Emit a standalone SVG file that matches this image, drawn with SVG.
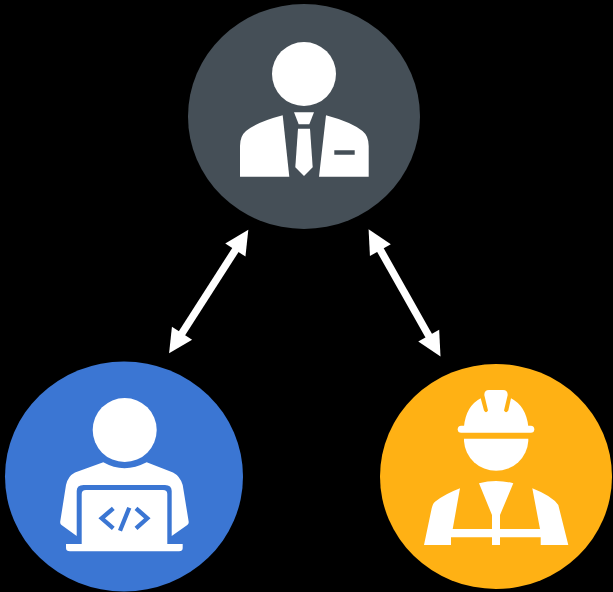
<svg xmlns="http://www.w3.org/2000/svg" width="613" height="592" viewBox="0 0 613 592">
<style>
.w{fill:#fff}
.link{stroke:#fff;stroke-width:7.5;fill:none;marker-start:url(#head);marker-end:url(#head)}
.code{stroke:#3b76d3;stroke-width:4.3;fill:none}
</style>
<defs>
<marker id="head" markerUnits="userSpaceOnUse" markerWidth="26" markerHeight="26" viewBox="0 -13 26 26" refX="1" refY="0" orient="auto-start-reverse" overflow="visible">
<path d="M0,-12 L24,0 L0,12 Z" fill="#fff"/>
</marker>
</defs>
<rect width="613" height="592" fill="#000"/>
<g id="connectors">
<line class="link" x1="235.9" y1="249.2" x2="181.5" y2="334"/>
<line class="link" x1="379.9" y1="249.2" x2="429.2" y2="336.5"/>
</g>
<g id="manager">
<ellipse cx="304" cy="116.5" rx="116" ry="112.5" fill="#454f57"/>
<circle class="w" cx="304" cy="74" r="32"/>
<path class="w" d="M282.7,115.3 Q257,122 246,131 Q240,136 240,146 V176.7 H289.3 Z"/>
<path class="w" fill-rule="evenodd" d="M326,115.3 Q351,122 362.5,131 Q368.7,136 368.7,146 V176.7 H319 Z M334.3,150.3 H354.7 V154.7 H334.3 Z"/>
<path class="w" d="M294,112.3 H314 L309.3,124.3 H298.7 Z"/>
<path class="w" d="M298,128.7 H310 L312.7,167.3 L304,176 L295.3,167.3 Z"/>
</g>
<g id="developer">
<ellipse cx="124" cy="476.5" rx="119" ry="115" fill="#3b76d3"/>
<circle class="w" cx="124.7" cy="430" r="32"/>
<path class="w" d="M103.3,462.3 Q124,474 146.7,462.3 L173,472.5 Q180,476 182.7,485 L188.7,521.7 Q189,524 187.3,525 L171.7,536 V491 Q171.7,485 165,485 H83.5 Q76.7,485 76.7,491 V536 L61.5,525 Q60,524 60.2,521.7 L66,485 Q68,476 75,472.5 Z"/>
<path class="w" d="M81.7,544 V494 Q81.7,490 86,490 H163 Q167.3,490 167.3,494 V544 Z"/>
<path class="w" d="M66,544 H182.7 V548 Q182.7,551.3 179,551.3 H70 Q66,551.3 66,548 Z"/>
<path class="code" d="M113.3,508.3 L101.7,518.3 L113.3,528.3 M129.3,507.7 L120,530.7 M136,508.3 L147.3,518.3 L136,528.3"/>
</g>
<g id="worker">
<ellipse cx="496" cy="476.5" rx="116" ry="112.5" fill="#ffb114"/>
<rect class="w" x="457.7" y="425.7" width="76.6" height="7" rx="3.5"/>
<path class="w" d="M464,426.5 Q466,406 480.7,398.3 L484,410.5 Q486,414 488,410.5 L484.3,395 Q484.3,390 489,390 H503 Q507.7,390 507.7,395 L504,410.5 Q506,414 508.3,410.5 L511,398.3 Q526,406 528.3,426.5 Z"/>
<path class="w" d="M464,438.7 H528.3 V441 A32.2,31.6 0 0 1 464,441 Z"/>
<path class="w" d="M460,488.3 L452.7,529 H540 L532.3,488.3 Q552,496 558.3,505 L568.3,545 H540.7 V537.3 H500 V545 H492 V537.3 H451 V545 H424 L431.7,508.3 Q433,503 435,501.7 Q445,494 460,488.3 Z"/>
<path class="w" d="M479,483.3 Q496,478.5 513.3,483.3 L500,515 V530 H492 V515 Z"/>
</g>
</svg>
